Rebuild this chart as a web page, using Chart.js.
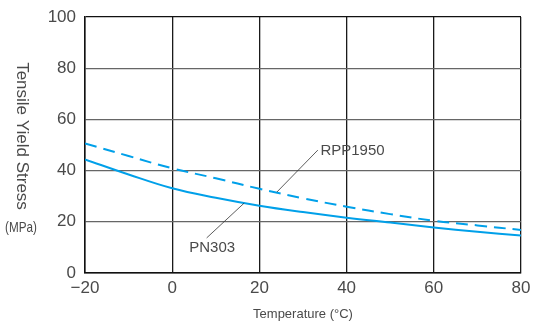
<!DOCTYPE html>
<html>
<head>
<meta charset="utf-8">
<script src="https://cdn.jsdelivr.net/npm/chart.js@4/dist/chart.umd.min.js"></script>
<style>
html,body{margin:0;padding:0;background:#fff;}
canvas{display:block;}
</style>
</head>
<body>
<canvas id="c" width="534" height="322"></canvas>
<script>
// Data
const temperatures = [-20, -10, 0, 10, 20, 30, 40, 50, 60, 70, 80];
const pn303 = [44.4, 38.5, 33.1, 29.4, 26.3, 23.8, 21.6, 19.7, 17.8, 16.1, 14.6];
const rpp1950 = [50.6, 45.7, 40.9, 37.0, 32.9, 29.2, 25.9, 23.0, 20.4, 18.6, 16.8];
const xTicks = [-20, 0, 20, 40, 60, 80];
const yTicks = [0, 20, 40, 60, 80, 100];
const seriesNames = ['PN303', 'RPP1950'];
const xTitle = 'Temperature (°C)';
const yTitle = 'Tensile Yield Stress';
const yUnit = '(MPa)';

// Callout anchors in data units
const callouts = [
  {text: seriesNames[0], tx: 3.9, ty: 9.8, x1: 7.9, y1: 13.7, x2: 16.5, y2: 27.3},
  {text: seriesNames[1], tx: 34.0, ty: 47.7, x1: 33.4, y1: 48.0, x2: 24.0, y2: 31.6}
];

const mk = (xs, ys) => xs.map((x, i) => ({x, y: ys[i]}));
const BLUE = '#00a0e9';
const TEXT = '#4a4a4a';
const FONT = '"Liberation Sans", Arial, sans-serif';

const overlay = {
  id: 'overlay',
  afterDraw(chart) {
    const ctx = chart.ctx;
    const xs = chart.scales.x, ys = chart.scales.y;
    ctx.save();
    ctx.strokeStyle = '#333';
    ctx.lineWidth = 0.8;
    ctx.fillStyle = TEXT;
    ctx.font = '15px ' + FONT;
    ctx.textBaseline = 'middle';
    ctx.textAlign = 'left';
    callouts.forEach(c => {
      ctx.beginPath();
      ctx.moveTo(xs.getPixelForValue(c.x1), ys.getPixelForValue(c.y1));
      ctx.lineTo(xs.getPixelForValue(c.x2), ys.getPixelForValue(c.y2));
      ctx.stroke();
      ctx.fillText(c.text, xs.getPixelForValue(c.tx), ys.getPixelForValue(c.ty));
    });
    ctx.save();
    ctx.translate(22, 136);
    ctx.rotate(Math.PI / 2);
    ctx.font = '17px ' + FONT;
    ctx.textAlign = 'center';
    ctx.textBaseline = 'middle';
    ctx.fillText(yTitle, 0, 0);
    ctx.restore();
    ctx.save();
    ctx.translate(21, 228);
    ctx.scale(0.78, 1);
    ctx.font = '15px ' + FONT;
    ctx.textAlign = 'center';
    ctx.textBaseline = 'middle';
    ctx.fillText(yUnit, 0, 0);
    ctx.restore();
    ctx.restore();
  }
};

new Chart(document.getElementById('c'), {
  type: 'line',
  data: {
    datasets: [
      {label: seriesNames[0], data: mk(temperatures, pn303), borderColor: BLUE, borderWidth: 2, pointRadius: 0, tension: 0.4, fill: false},
      {label: seriesNames[1], data: mk(temperatures, rpp1950), borderColor: BLUE, borderWidth: 2, borderDash: [12, 7], pointRadius: 0, tension: 0.4, fill: false}
    ]
  },
  options: {
    responsive: false,
    animation: false,
    layout: {padding: {top: 17, right: 13, left: 0, bottom: 0}},
    plugins: {legend: {display: false}, tooltip: {enabled: false}},
    scales: {
      x: {
        type: 'linear', min: -20, max: 80,
        afterBuildTicks: s => { s.ticks = xTicks.map(v => ({value: v})); },
        afterFit: s => { s.height = 49; s.paddingLeft = 0; s.paddingRight = 0; },
        ticks: {color: TEXT, font: {family: FONT, size: 17}, padding: 5,
          callback: v => (v < 0 ? '\u2212' + Math.abs(v) : String(v))},
        grid: {color: '#1a1a1a', lineWidth: 1.3, drawTicks: false},
        border: {color: '#111', width: 1.5},
        title: {display: true, text: xTitle, color: TEXT, font: {family: FONT, size: 13}, padding: {top: 5, bottom: 0}}
      },
      y: {
        type: 'linear', min: 0, max: 100,
        afterBuildTicks: s => { s.ticks = yTicks.map(v => ({value: v})); },
        afterFit: s => { s.width = 85; s.paddingTop = 0; s.paddingBottom = 0; },
        ticks: {color: TEXT, font: {family: FONT, size: 17}, padding: 9},
        grid: {color: ctx => (ctx.tick && (ctx.tick.value === 100 || ctx.tick.value === 0)) ? '#111' : '#666', lineWidth: 1.3, drawTicks: false},
        border: {color: '#111', width: 1.5}
      }
    }
  },
  plugins: [overlay]
});
</script>
</body>
</html>
